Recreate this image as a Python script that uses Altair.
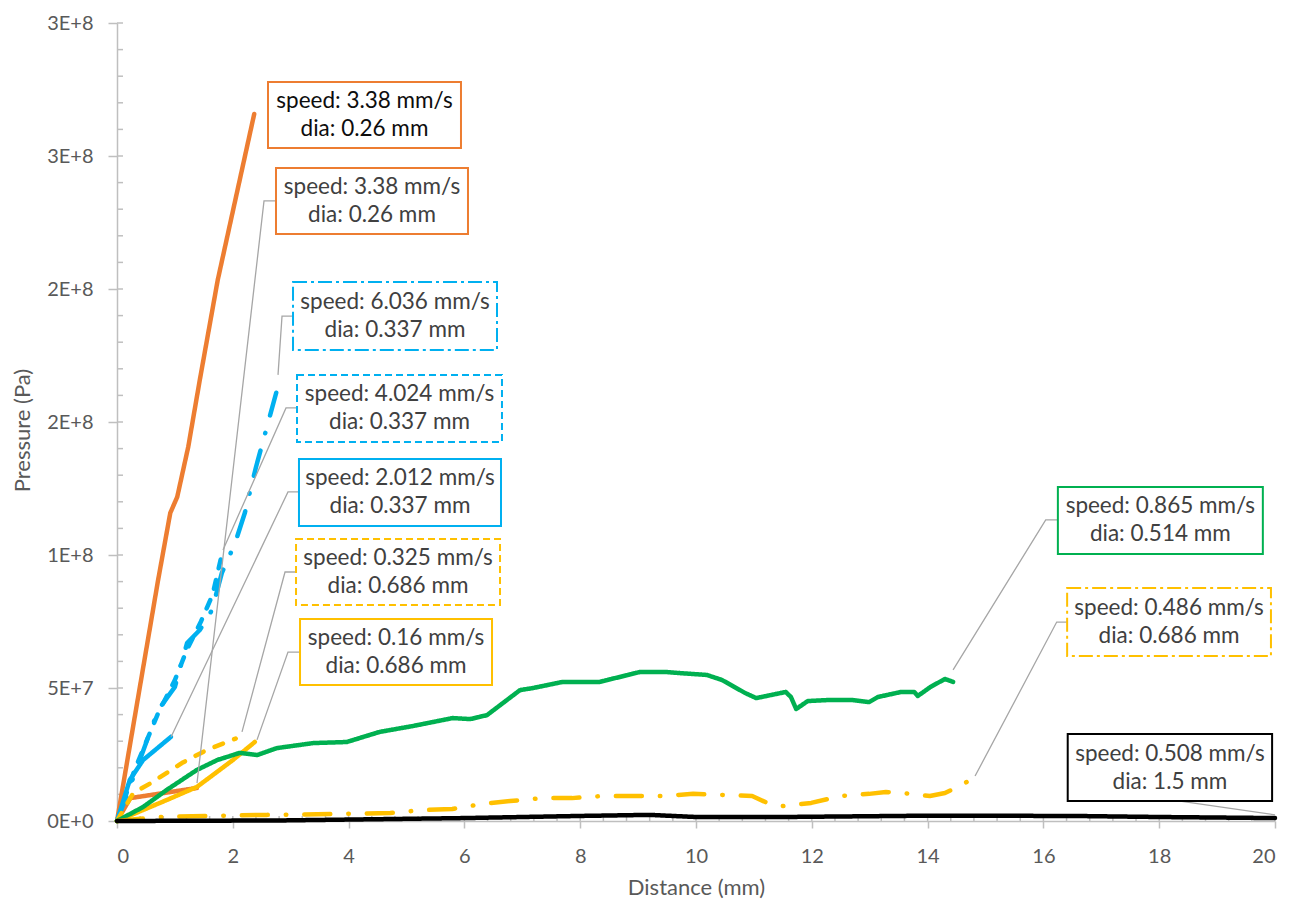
import altair as alt
import pandas as pd
import numpy as np

# ---------------- data ----------------
# distance (mm) / pressure (Pa) for each run
orange_a_x = [0, 0.71, 0.92, 1.04, 1.23, 1.43, 1.74, 2.37]
orange_a_y = [0, 9.06e7, 1.158e8, 1.218e8, 1.406e8, 1.658e8, 2.034e8, 2.658e8]

orange_b_x = [0, 0.23, 1.38]
orange_b_y = [0, 8.6e6, 1.24e7]

blue_dd_x = [0, 0.35, 0.71, 1.0, 1.21, 1.43, 1.64, 1.81, 2.04, 2.21, 2.40, 2.75]
blue_dd_y = [0, 2.03e7, 4.17e7, 5.04e7, 6.69e7, 7.18e7, 7.93e7, 9.32e7, 1.045e8, 1.16e8, 1.33e8, 1.61e8]

blue_d_x = [0, 0.3, 0.7, 1.0, 1.2, 1.45, 1.65, 1.83]
blue_d_y = [0, 1.9e7, 4.0e7, 5.3e7, 6.4e7, 7.5e7, 8.5e7, 1.02e8]

blue_s_x = [0, 0.22, 0.45, 0.93]
blue_s_y = [0, 1.54e7, 2.29e7, 3.16e7]

yellow_d_x = [0, 0.28, 0.62, 1.12, 1.55, 2.05]
yellow_d_y = [0, 1.05e7, 1.47e7, 2.18e7, 2.67e7, 3.1e7]

yellow_s_x = [0, 0.86, 1.38, 2.0, 2.38]
yellow_s_y = [0, 7.9e6, 1.28e7, 2.29e7, 2.97e7]

green_x = [0, 0.45, 0.86, 1.38, 1.73, 2.12, 2.42, 2.76, 3.16, 3.39, 3.97, 4.54, 5.11,
           5.80, 6.10, 6.39, 6.96, 7.19, 7.70, 8.34, 9.03, 9.50, 9.72, 10.19, 10.45,
           10.85, 11.04, 11.55, 11.64, 11.73, 11.93, 12.31, 12.69, 12.99, 13.14, 13.54,
           13.77, 13.83, 14.05, 14.30, 14.44]
green_y = [0, 5.26e6, 1.17e7, 1.92e7, 2.29e7, 2.56e7, 2.48e7, 2.74e7, 2.86e7, 2.93e7,
           2.97e7, 3.35e7, 3.57e7, 3.87e7, 3.83e7, 3.98e7, 4.92e7, 5.00e7, 5.23e7, 5.23e7,
           5.60e7, 5.60e7, 5.56e7, 5.49e7, 5.30e7, 4.81e7, 4.62e7, 4.85e7, 4.66e7, 4.21e7,
           4.51e7, 4.55e7, 4.55e7, 4.47e7, 4.66e7, 4.85e7, 4.85e7, 4.70e7, 5.04e7, 5.34e7,
           5.23e7]

yellow_dd_x = [0, 0.74, 1.55, 2.59, 3.68, 4.72, 5.27, 5.79, 6.30, 6.79, 7.34, 7.86, 8.39,
               8.89, 9.43, 9.95, 10.47, 10.97, 11.23, 11.49, 11.99, 12.50, 12.99, 13.28,
               13.58, 14.04, 14.30, 14.56, 14.82]
yellow_dd_y = [0, 1.5e6, 1.9e6, 2.3e6, 2.6e6, 3.0e6, 4.1e6, 4.5e6, 6.4e6, 7.5e6, 8.6e6,
               8.6e6, 9.4e6, 9.4e6, 9.4e6, 1.02e7, 9.8e6, 9.4e6, 6.8e6, 5.6e6, 6.8e6,
               9.4e6, 1.02e7, 1.09e7, 1.05e7, 9.4e6, 1.05e7, 1.32e7, 1.65e7]

black_x = [0, 2.8, 6.0, 8.0, 9.2, 10.0, 11.5, 14.0, 16.5, 18.0, 20.0]
black_y = [0, 2e5, 1.1e6, 1.9e6, 2.3e6, 1.5e6, 1.5e6, 2.0e6, 1.9e6, 1.5e6, 1.1e6]

series_keys = ["o1", "o2", "bdd", "bd", "bs", "yd", "ys", "g", "ydd", "k"]
series_xs = [orange_a_x, orange_b_x, blue_dd_x, blue_d_x, blue_s_x,
             yellow_d_x, yellow_s_x, green_x, yellow_dd_x, black_x]
series_ys = [orange_a_y, orange_b_y, blue_dd_y, blue_d_y, blue_s_y,
             yellow_d_y, yellow_s_y, green_y, yellow_dd_y, black_y]

# label texts
label_speed = ["3.38", "3.38", "6.036", "4.024", "2.012", "0.325", "0.16", "0.865", "0.486", "0.508"]
label_dia = ["0.26", "0.26", "0.337", "0.337", "0.337", "0.686", "0.686", "0.514", "0.686", "1.5"]

# y tick values and x tick values
y_ticks = [0, 5e7, 1e8, 1.5e8, 2e8, 2.5e8, 3e8]
x_ticks = list(range(0, 21, 2))

# ---------------- styling ----------------
series_colors = ["#ED7D31", "#ED7D31", "#00B0F0", "#00B0F0", "#00B0F0",
                 "#FFC000", "#FFC000", "#00B050", "#FFC000", "#000000"]
DASH_SOLID = [1, 0]
DASH_DASH = [9, 12]
DASH_DOT = [26, 18, 0.5, 18]
series_dashes = [DASH_SOLID, DASH_SOLID, DASH_DOT, DASH_DASH, DASH_SOLID,
                 DASH_DASH, DASH_SOLID, DASH_SOLID, DASH_DOT, DASH_SOLID]
box_style = ["solid", "solid", "dashdot", "dashed", "solid",
             "dashed", "solid", "solid", "dashdot", "solid"]

# annotation box placement (data units)
box_x1 = [2.608, 2.746, 3.040, 3.109, 3.143, 3.092, 3.161, 16.25, 16.41, 16.42]
box_x2 = [5.941, 6.062, 6.563, 6.649, 6.632, 6.615, 6.477, 19.79, 19.93, 19.95]
box_y1 = [2.778e8, 2.455e8, 2.026e8, 1.677e8, 1.361e8, 1.060e8, 7.59e7, 1.256e8, 8.76e7, 3.27e7]
box_y2 = [2.530e8, 2.207e8, 1.771e8, 1.425e8, 1.109e8, 8.12e7, 5.11e7, 1.004e8, 6.20e7, 7.5e6]

# leader lines (data units): list of point lists
leaders = [
    [(2.746, 2.331e8), (2.539, 2.331e8), (1.382, 1.43e7)],
    [(3.040, 1.898e8), (2.850, 1.898e8), (2.781, 1.677e8)],
    [(3.109, 1.553e8), (2.919, 1.553e8), (1.831, 1.019e8)],
    [(3.143, 1.237e8), (2.953, 1.237e8), (0.933, 3.16e7)],
    [(3.092, 9.36e7), (2.902, 9.36e7), (2.159, 3.35e7)],
    [(3.161, 6.35e7), (2.953, 6.35e7), (2.418, 3.05e7)],
    [(16.25, 1.132e8), (16.04, 1.132e8), (14.44, 5.68e7)],
    [(16.41, 7.48e7), (16.23, 7.48e7), (14.82, 1.69e7)],
    [(18.36, 7.5e6), (20.0, 2.3e6)],
]

W, H = 1158, 798
FONT = "Lato"
GRAY = "#BFBFBF"
TXT = "#595959"

# ---------------- tables ----------------
rows = []
for k, xs, ys in zip(series_keys, series_xs, series_ys):
    for i, (xv, yv) in enumerate(zip(xs, ys)):
        rows.append({"series": k, "x": xv, "y": yv, "i": i})
df_lines = pd.DataFrame(rows)

df_boxes = pd.DataFrame({
    "series": series_keys, "style": box_style,
    "x1": box_x1, "x2": box_x2, "y1": box_y1, "y2": box_y2,
    "text": [f"speed: {s} mm/s\ndia: {d} mm" for s, d in zip(label_speed, label_dia)],
    "idx": list(range(len(series_keys))),
})
df_boxes["xc"] = (df_boxes.x1 + df_boxes.x2) / 2
df_boxes["yc"] = (df_boxes.y1 + df_boxes.y2) / 2

lrows = []
for li, pts in enumerate(leaders):
    for j, (xv, yv) in enumerate(pts):
        lrows.append({"leader": li, "x": xv, "y": yv, "j": j})
df_leaders = pd.DataFrame(lrows)

df_xminor = pd.DataFrame({"x": np.round(np.arange(0, 20.0001, 0.4), 2)})
df_yminor = pd.DataFrame({"y": np.arange(0, 3.0001e8, 1e7)})

xscale = alt.Scale(domain=[0, 20], nice=False, zero=False)
yscale = alt.Scale(domain=[0, 3e8], nice=False)

xaxis = alt.Axis(values=x_ticks, format="d", title="Distance (mm)", grid=False,
                 tickSize=7, tickWidth=1.5, tickColor=GRAY,
                 domainColor=GRAY, domainWidth=1.5,
                 labelFontSize=20, labelColor=TXT, labelPadding=18, labelFont=FONT,
                 titleFontSize=22, titleColor=TXT, titleFontWeight="normal", titleFont=FONT,
                 titleY=66, titleBaseline="middle")
yaxis = alt.Axis(values=y_ticks, title="Pressure (Pa)", grid=False,
                 labelExpr="replace(format(datum.value, '.0e'), 'e', 'E')",
                 tickSize=9, tickWidth=1.5, tickColor=GRAY,
                 domainColor=GRAY, domainWidth=1.5,
                 labelFontSize=20, labelColor=TXT, labelPadding=15, labelFont=FONT,
                 titleFontSize=22, titleColor=TXT, titleFontWeight="normal", titleFont=FONT,
                 titleX=-95, titleY=407, titleBaseline="middle")

color_scale = alt.Scale(domain=series_keys, range=series_colors)

lines = alt.Chart(df_lines).mark_line(strokeWidth=4.5, strokeCap="round", strokeJoin="round").encode(
    x=alt.X("x:Q", scale=xscale, axis=xaxis),
    y=alt.Y("y:Q", scale=yscale, axis=yaxis),
    color=alt.Color("series:N", scale=color_scale, legend=None),
    strokeDash=alt.StrokeDash("series:N", scale=alt.Scale(domain=series_keys, range=series_dashes), legend=None),
    order="i:Q",
)

xminor = alt.Chart(df_xminor).mark_rule(color=GRAY, strokeWidth=1.5).encode(
    x=alt.X("x:Q", scale=xscale), y=alt.value(H), y2=alt.value(H - 5))
yminor = alt.Chart(df_yminor).mark_rule(color=GRAY, strokeWidth=1.5).encode(
    y=alt.Y("y:Q", scale=yscale), x=alt.value(0), x2=alt.value(6))

leader_lines = alt.Chart(df_leaders).mark_line(color="#A6A6A6", strokeWidth=1.3).encode(
    x=alt.X("x:Q", scale=xscale), y=alt.Y("y:Q", scale=yscale),
    detail="leader:N", order="j:Q")

def box_layer(style, dash):
    kw = dict(fill="white", strokeWidth=2)
    if dash is not None:
        kw["strokeDash"] = dash
    return alt.Chart(df_boxes).transform_filter(alt.datum.style == style).mark_rect(**kw).encode(
        x=alt.X("x1:Q", scale=xscale), x2="x2:Q",
        y=alt.Y("y1:Q", scale=yscale), y2="y2:Q",
        stroke=alt.Stroke("series:N", scale=color_scale, legend=None))

boxes = [box_layer("solid", None), box_layer("dashed", [7, 4]), box_layer("dashdot", [14, 4, 3, 4])]

texts = alt.Chart(df_boxes).mark_text(font=FONT, fontSize=22.5, lineHeight=28, lineBreak="\n",
                                      align="center", baseline="middle", dy=-14).encode(
    x=alt.X("xc:Q", scale=xscale), y=alt.Y("yc:Q", scale=yscale), text="text:N",
    color=alt.condition(alt.datum.idx == 0, alt.value("#0D0D0D"), alt.value("#404040")))

chart = alt.layer(xminor, yminor, lines, leader_lines, *boxes, texts).properties(
    width=W, height=H,
    padding={"left": 109, "top": 15, "right": 7, "bottom": 80},
    autosize=alt.AutoSizeParams(type="none"),
).configure_view(stroke=None)

chart.save("out.html", embed_options={"renderer": "svg", "actions": False})
